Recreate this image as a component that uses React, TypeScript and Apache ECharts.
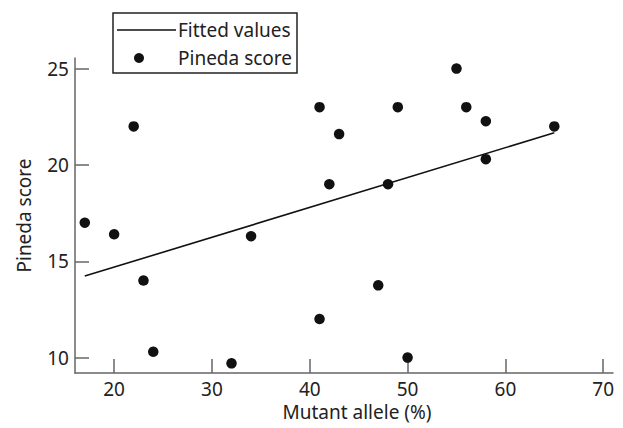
import React, { useEffect, useRef } from "react";
import * as echarts from "echarts";

const mutantAllele = [17, 20, 22, 23, 24, 32, 34, 41, 41, 42, 43, 47, 48, 49, 50, 55, 56, 58, 58, 65];
const pinedaScore = [17, 16.4, 22, 14, 10.3, 9.7, 16.3, 23, 12, 19, 21.6, 13.75, 19, 23, 10, 25, 23, 22.27, 20.3, 22];
const fittedX = [17, 65];
const fittedY = [14.23, 21.67];
const xTicks = [20, 30, 40, 50, 60, 70];
const yTicks = [10, 15, 20, 25];
const legendNames = ["Fitted values", "Pineda score"];

const FONT = "Noto Sans";
const FS = 19;

export default function App() {
  const ref = useRef<HTMLDivElement>(null);
  useEffect(() => {
    const chart = echarts.init(ref.current!, null, { renderer: "svg" });
    const axisColor = "#666";
    const ink = "#111";
    chart.setOption({
      animation: false,
      textStyle: { fontFamily: FONT, color: "#222" },
      grid: { left: 75, right: 10, top: 58, bottom: 55 },
      graphic: [
        {
          type: "rect",
          shape: { x: 113, y: 13, width: 184, height: 60 },
          style: { fill: "#fff", stroke: "#222", lineWidth: 1.5 },
          z: 100,
        },
        {
          type: "line",
          shape: { x1: 117, y1: 30, x2: 176, y2: 30 },
          style: { stroke: ink, lineWidth: 1.6 },
          z: 101,
        },
        {
          type: "text",
          x: 178,
          y: 30,
          style: { text: legendNames[0], fontFamily: FONT, fontSize: FS, fill: "#222", verticalAlign: "middle", align: "left" },
          z: 101,
        },
        {
          type: "circle",
          shape: { cx: 139, cy: 58, r: 5 },
          style: { fill: ink },
          z: 101,
        },
        {
          type: "text",
          x: 178,
          y: 58,
          style: { text: legendNames[1], fontFamily: FONT, fontSize: FS, fill: "#222", verticalAlign: "middle", align: "left" },
          z: 101,
        },
      ],
      xAxis: {
        type: "value",
        min: 16,
        max: 71,
        name: "Mutant allele (%)",
        nameLocation: "middle",
        nameGap: 29,
        nameTextStyle: { fontFamily: FONT, fontSize: FS, color: "#222", padding: [0, 0, 0, 26] },
        splitLine: { show: false },
        axisLine: { lineStyle: { color: axisColor, width: 1.5 } },
        axisTick: { inside: true, length: 14, lineStyle: { color: axisColor, width: 1.5 }, customValues: xTicks },
        axisLabel: { margin: 6, fontFamily: FONT, fontSize: FS, color: "#222", customValues: xTicks },
      },
      yAxis: {
        type: "value",
        min: 9.2,
        max: 25.55,
        name: "Pineda score",
        nameLocation: "middle",
        nameGap: 42,
        nameTextStyle: { fontFamily: FONT, fontSize: FS, color: "#222" },
        splitLine: { show: false },
        axisLine: { show: true, lineStyle: { color: axisColor, width: 1.5 } },
        axisTick: { show: true, inside: true, length: 14, lineStyle: { color: axisColor, width: 1.5 }, customValues: yTicks },
        axisLabel: { margin: 6, fontFamily: FONT, fontSize: FS, color: "#222", customValues: yTicks },
      },
      series: [
        {
          name: legendNames[0],
          type: "line",
          symbol: "none",
          lineStyle: { color: ink, width: 1.6 },
          itemStyle: { color: ink },
          data: fittedX.map((x, i) => [x, fittedY[i]]),
        },
        {
          name: legendNames[1],
          type: "scatter",
          symbol: "circle",
          symbolSize: 10.5,
          itemStyle: { color: ink, opacity: 1 },
          data: mutantAllele.map((x, i) => [x, pinedaScore[i]]),
        },
      ],
    });
    return () => chart.dispose();
  }, []);
  return <div ref={ref} style={{ width: 623, height: 428, position: "absolute", left: 0, top: 0 }} />;
}
